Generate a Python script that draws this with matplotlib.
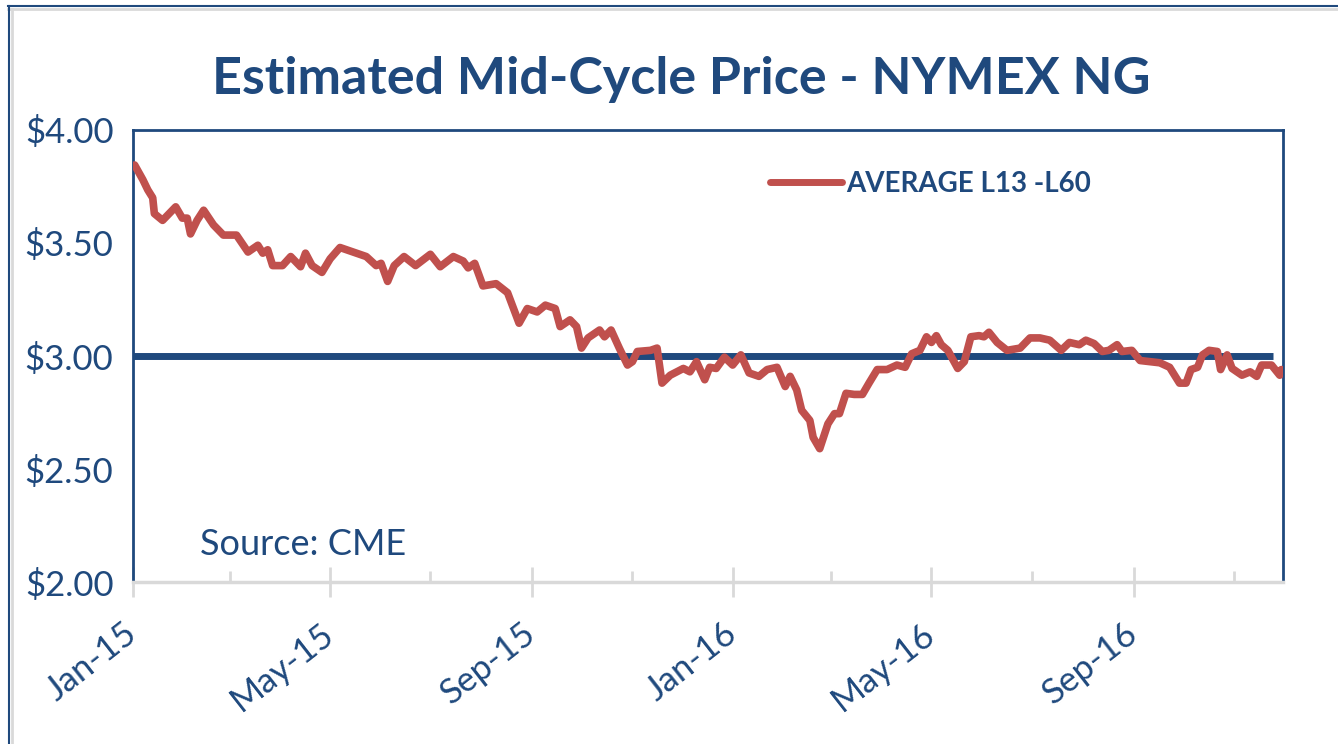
import numpy as np
import pandas as pd
import matplotlib
matplotlib.use("Agg")
from matplotlib import pyplot as plt
from matplotlib.lines import Line2D

# days since 2015-01-01 and price ($/MMBtu)
days = [1, 6, 9, 12, 13, 18, 26, 30, 33, 35, 39, 43, 49, 55, 63, 70, 76, 79, 82, 85,
        91, 96, 102, 105, 109, 115, 120, 126, 134, 142, 148, 151, 155, 159, 165, 172,
        181, 187, 195, 201, 204, 208, 213, 221, 228, 235, 240, 246, 251, 257, 260, 266,
        270, 273, 277, 284, 287, 291, 296, 301, 304, 307, 315, 319, 322, 327, 335, 339,
        343, 348, 351, 355, 360, 365, 370, 375, 381, 386, 392, 397, 400, 404, 407, 412,
        414, 418, 423, 427, 430, 434, 439, 444, 448, 453, 459, 465, 470, 474, 479, 483,
        486, 489, 492, 496, 502, 506, 510, 515, 518, 521, 526, 532, 540, 546, 552, 558,
        565, 570, 576, 580, 585, 590, 594, 599, 602, 608, 613, 619, 625, 631, 637, 641,
        644, 648, 651, 655, 660, 662, 666, 669, 675, 680, 684, 687, 693, 698, 699]
price = [3.845, 3.78, 3.735, 3.70, 3.63, 3.60, 3.66, 3.61, 3.61, 3.54, 3.60, 3.645, 3.58,
         3.535, 3.535, 3.46, 3.49, 3.455, 3.47, 3.40, 3.40, 3.44, 3.395, 3.455, 3.40, 3.37,
         3.43, 3.48, 3.46, 3.44, 3.40, 3.41, 3.33, 3.40, 3.44, 3.40, 3.45, 3.395, 3.44, 3.42,
         3.39, 3.41, 3.31, 3.32, 3.28, 3.145, 3.21, 3.195, 3.225, 3.21, 3.13, 3.16, 3.13,
         3.035, 3.08, 3.115, 3.085, 3.115, 3.035, 2.96, 2.975, 3.02, 3.025, 3.035, 2.88,
         2.915, 2.945, 2.93, 2.975, 2.895, 2.95, 2.945, 2.995, 2.96, 3.005, 2.925, 2.91,
         2.94, 2.95, 2.865, 2.91, 2.85, 2.76, 2.715, 2.64, 2.59, 2.70, 2.745, 2.745, 2.835,
         2.83, 2.83, 2.88, 2.94, 2.94, 2.96, 2.95, 3.01, 3.025, 3.085, 3.06, 3.09, 3.05,
         3.025, 2.945, 2.975, 3.085, 3.09, 3.085, 3.105, 3.06, 3.025, 3.035, 3.08, 3.08,
         3.07, 3.025, 3.06, 3.05, 3.07, 3.055, 3.02, 3.025, 3.05, 3.02, 3.025, 2.98, 2.975,
         2.97, 2.95, 2.88, 2.88, 2.94, 2.95, 3.005, 3.025, 3.02, 2.94, 3.005, 2.945, 2.915,
         2.93, 2.91, 2.96, 2.96, 2.915, 2.94]

mid_cycle = 3.00
mid_cycle_span = ["2015-01-01", "2016-11-25"]

yticks = [2.0, 2.5, 3.0, 3.5, 4.0]
major_months = ["2015-01-01", "2015-05-01", "2015-09-01", "2016-01-01", "2016-05-01", "2016-09-01"]
minor_months = ["2015-03-01", "2015-07-01", "2015-11-01", "2016-03-01", "2016-07-01", "2016-11-01"]

BLUE = "#1F497D"
RED = "#C0504D"
GREY = "#D9D9D9"
FONT = ["Lato", "DejaVu Sans"]

dates = pd.Timestamp("2015-01-01") + pd.to_timedelta(days, unit="D")

fig = plt.figure(figsize=(13.38, 7.44), dpi=100)
ax = fig.add_axes([0.0994, 0.2177, 0.8595, 0.6076])

ax.plot(pd.to_datetime(mid_cycle_span), [mid_cycle, mid_cycle], color=BLUE, lw=5,
        solid_capstyle="butt", zorder=2)
ax.plot(dates, price, color=RED, lw=5.5, solid_joinstyle="round", solid_capstyle="round",
        zorder=3)

ax.set_xlim(pd.Timestamp("2015-01-01"), pd.Timestamp("2016-12-01"))
ax.set_ylim(2.0, 4.0)
ax.set_yticks(yticks)
ax.set_yticklabels(["$%.2f" % v for v in yticks], family=FONT, fontsize=25, color=BLUE)
ax.tick_params(axis="y", length=0, pad=14)

ax.set_xticks(pd.to_datetime(major_months))
ax.set_xticklabels([pd.Timestamp(m).strftime("%b-%y") for m in major_months],
                   family=FONT, fontsize=25, color=BLUE, rotation=38,
                   ha="right", va="center", rotation_mode="anchor")
ax.set_xticks(pd.to_datetime(minor_months), minor=True)
ax.tick_params(axis="x", which="major", direction="inout", length=21, width=2,
               color=GREY, pad=24)
ax.tick_params(axis="x", which="minor", direction="in", length=8, width=2, color=GREY)

for side in ["left", "top", "right"]:
    ax.spines[side].set_color(BLUE)
    ax.spines[side].set_linewidth(2)
ax.spines["bottom"].set_color(GREY)
ax.spines["bottom"].set_linewidth(2.5)

leg = ax.legend(handles=[Line2D([], [], color=RED, lw=5, solid_capstyle="round")],
                labels=["AVERAGE L13 -L60"], loc="upper left",
                bbox_to_anchor=(0.532, 0.965), frameon=False, handlelength=2.6,
                handletextpad=0.15, prop={"family": FONT, "weight": "bold", "size": 20})
for t in leg.get_texts():
    t.set_color(BLUE)

ax.text(0.058, 0.06, "Source: CME", transform=ax.transAxes, family=FONT,
        fontsize=26, color=BLUE, va="baseline")

fig.text(0.509, 0.873, "Estimated Mid-Cycle Price - NYMEX NG", ha="center", va="baseline",
         family=FONT, fontsize=37.5, fontweight="bold", color=BLUE)

# outer chart frame (cropped at right and bottom)
fig.add_artist(Line2D([8 / 1338, 1], [1 - 6 / 744, 1 - 6 / 744], color=BLUE, lw=1.5,
                      transform=fig.transFigure))
fig.add_artist(Line2D([8 / 1338, 1], [1 - 9 / 744, 1 - 9 / 744], color=GREY, lw=2,
                      transform=fig.transFigure))
fig.add_artist(Line2D([9 / 1338, 9 / 1338], [0, 1 - 6 / 744], color=BLUE, lw=1.5,
                      transform=fig.transFigure))
fig.add_artist(Line2D([12 / 1338, 12 / 1338], [0, 1 - 9 / 744], color=GREY, lw=2,
                      transform=fig.transFigure))

fig.savefig("out.png", dpi=100)
